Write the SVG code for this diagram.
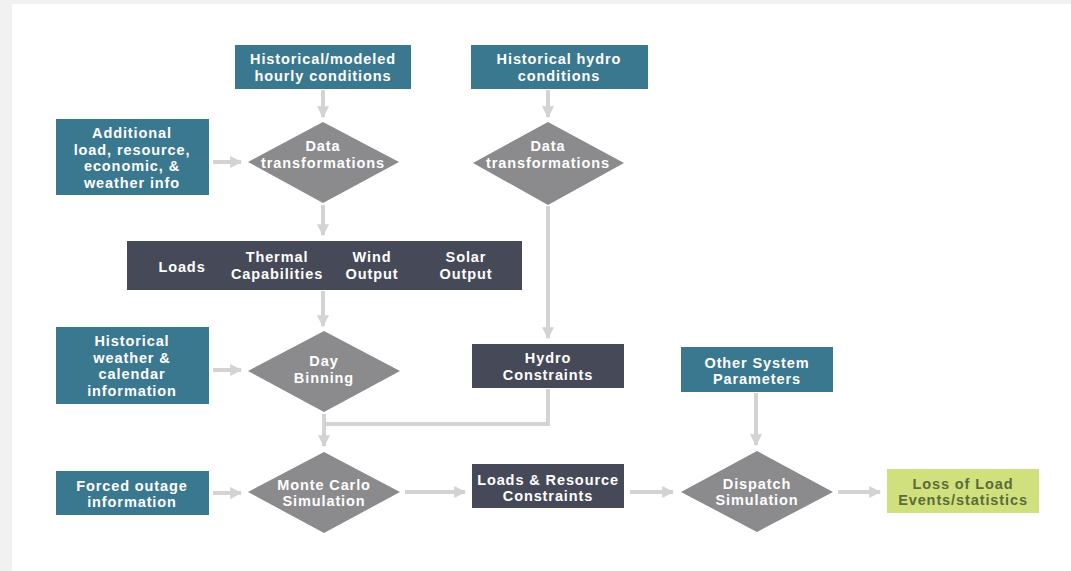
<svg xmlns="http://www.w3.org/2000/svg" width="1071" height="571" viewBox="0 0 1071 571">
  <defs>
    <marker id="head" viewBox="0 0 10 10" refX="9" refY="5" markerWidth="3" markerHeight="3" orient="auto" markerUnits="strokeWidth">
      <path d="M0,0 L10,5 L0,10 z" fill="#d3d3d3"/>
    </marker>
    <style>
      .teal { fill: #3a7890; }
      .slate { fill: #464a58; }
      .diamond { fill: #8b8b8d; }
      .out { fill: #cfe07c; }
      .lbl { font-family: "Liberation Sans", Arial, sans-serif; font-weight: 700; font-size: 14.5px; letter-spacing: 0.9px; fill: #ffffff; text-anchor: middle; }
      .dk { fill: #5b6b3a; }
      .wire { fill: none; stroke: #d3d3d3; stroke-width: 4; }
      .arrow { fill: none; stroke: #d3d3d3; stroke-width: 4; marker-end: url(#head); }
    </style>
  </defs>

  <!-- page -->
  <rect x="0" y="0" width="1071" height="571" fill="#f1f1f1"/>
  <rect x="12" y="4" width="1059" height="567" fill="#ffffff"/>

  <!-- connectors -->
  <g id="connectors">
    <path class="arrow" d="M323,90 V117"/>
    <path class="arrow" d="M548,90 V117"/>
    <path class="arrow" d="M213,162 H241"/>
    <path class="arrow" d="M323,205 V235"/>
    <path class="arrow" d="M323,291 V326"/>
    <path class="arrow" d="M548,206 V338"/>
    <path class="arrow" d="M213,370 H241"/>
    <path class="wire" d="M548,389 V424 H324"/>
    <path class="arrow" d="M324,414 V446"/>
    <path class="arrow" d="M213,493 H241"/>
    <path class="arrow" d="M405,492 H465"/>
    <path class="arrow" d="M630,492 H673"/>
    <path class="arrow" d="M756,393 V445"/>
    <path class="arrow" d="M838,492 H880"/>
  </g>

  <g id="hourly-conditions">
    <rect class="teal" x="235" y="45" width="176" height="44"/>
    <text class="lbl" x="323" y="64">Historical/modeled</text>
    <text class="lbl" x="323" y="81">hourly conditions</text>
  </g>

  <g id="hydro-conditions">
    <rect class="teal" x="471" y="45" width="177" height="44"/>
    <text class="lbl" x="559" y="64">Historical hydro</text>
    <text class="lbl" x="559" y="81">conditions</text>
  </g>

  <g id="additional-info">
    <rect class="teal" x="56" y="119" width="153" height="76"/>
    <text class="lbl" x="132" y="138">Additional</text>
    <text class="lbl" x="132" y="154.5">load, resource,</text>
    <text class="lbl" x="132" y="171">economic, &amp;</text>
    <text class="lbl" x="132" y="187.5">weather info</text>
  </g>

  <g id="data-transform-1">
    <polygon class="diamond" points="323,122 399,162 323,203 248,162"/>
    <text class="lbl" x="323" y="151">Data</text>
    <text class="lbl" x="323" y="167.5">transformations</text>
  </g>

  <g id="data-transform-2">
    <polygon class="diamond" points="548,122 624,163 548,205 473,163"/>
    <text class="lbl" x="548" y="151">Data</text>
    <text class="lbl" x="548" y="167.5">transformations</text>
  </g>

  <g id="profiles-bar">
    <rect class="slate" x="127" y="241" width="395" height="49"/>
    <text class="lbl" x="182" y="272">Loads</text>
    <text class="lbl" x="277" y="262">Thermal</text>
    <text class="lbl" x="277" y="278.5">Capabilities</text>
    <text class="lbl" x="372" y="262">Wind</text>
    <text class="lbl" x="372" y="278.5">Output</text>
    <text class="lbl" x="466" y="262">Solar</text>
    <text class="lbl" x="466" y="278.5">Output</text>
  </g>

  <g id="weather-calendar">
    <rect class="teal" x="56" y="327" width="153" height="77"/>
    <text class="lbl" x="132" y="346">Historical</text>
    <text class="lbl" x="132" y="362.5">weather &amp;</text>
    <text class="lbl" x="132" y="379">calendar</text>
    <text class="lbl" x="132" y="395.5">information</text>
  </g>

  <g id="day-binning">
    <polygon class="diamond" points="324,331 400,371 324,412 248,371"/>
    <text class="lbl" x="324" y="366">Day</text>
    <text class="lbl" x="324" y="382.5">Binning</text>
  </g>

  <g id="hydro-constraints">
    <rect class="slate" x="472" y="344" width="152" height="44"/>
    <text class="lbl" x="548" y="363">Hydro</text>
    <text class="lbl" x="548" y="380">Constraints</text>
  </g>

  <g id="other-parameters">
    <rect class="teal" x="681" y="347" width="152" height="45"/>
    <text class="lbl" x="757" y="367.5">Other System</text>
    <text class="lbl" x="757" y="384">Parameters</text>
  </g>

  <g id="forced-outage">
    <rect class="teal" x="56" y="471" width="153" height="44"/>
    <text class="lbl" x="132" y="490.5">Forced outage</text>
    <text class="lbl" x="132" y="507">information</text>
  </g>

  <g id="monte-carlo">
    <polygon class="diamond" points="324,452 400,492 324,533 248,492"/>
    <text class="lbl" x="324" y="489.5">Monte Carlo</text>
    <text class="lbl" x="324" y="506">Simulation</text>
  </g>

  <g id="loads-resource">
    <rect class="slate" x="472" y="464" width="152" height="44"/>
    <text class="lbl" x="548" y="484.5">Loads &amp; Resource</text>
    <text class="lbl" x="548" y="501">Constraints</text>
  </g>

  <g id="dispatch">
    <polygon class="diamond" points="757,451 833,492 757,532 681,492"/>
    <text class="lbl" x="757" y="488.5">Dispatch</text>
    <text class="lbl" x="757" y="505">Simulation</text>
  </g>

  <g id="loss-of-load">
    <rect class="out" x="887" y="469" width="152" height="44"/>
    <text class="lbl dk" x="963" y="488.5">Loss of Load</text>
    <text class="lbl dk" x="963" y="505">Events/statistics</text>
  </g>
</svg>
